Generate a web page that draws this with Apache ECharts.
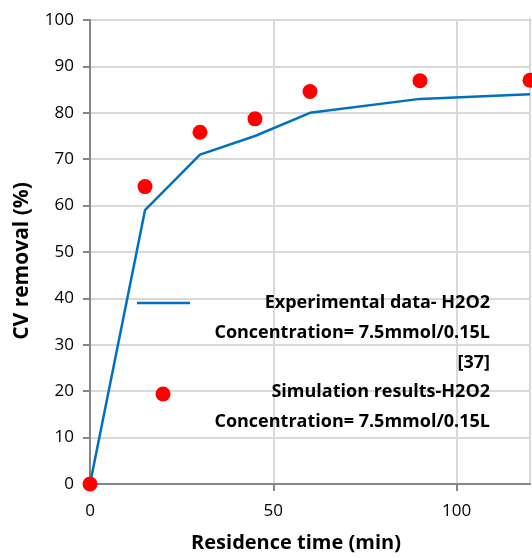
<!DOCTYPE html>
<html>
<head>
<meta charset="utf-8">
<script src="https://cdn.jsdelivr.net/npm/echarts@6/dist/echarts.min.js"></script>
<style>
  html, body { margin: 0; padding: 0; background: #fff; }
  #chart { width: 532px; height: 558px; }
</style>
</head>
<body>
<div id="chart"></div>
<script>
// residence time (min)
const times = [0, 15, 30, 45, 60, 90, 120];
// experimental data (line)
const experimental = [0, 59, 71, 75, 80, 83, 84];
// simulation results (dots)
const simulation = [0, 64.1, 75.8, 78.7, 84.6, 86.9, 87];

const lineName = 'Experimental data- H2O2\nConcentration= 7.5mmol/0.15L\n[37]';
const dotName = 'Simulation results-H2O2\nConcentration= 7.5mmol/0.15L';

const font = '"Open Sans", "Noto Sans", sans-serif';
const axisGray = '#868686';

const chart = echarts.init(document.getElementById('chart'));

const options = {
  animation: false,
  textStyle: { fontFamily: font, color: '#000' },
  grid: {
    left: 90, right: 2, top: 20, bottom: 74,
    show: true, borderColor: axisGray, borderWidth: 2, backgroundColor: 'transparent'
  },
  xAxis: {
    type: 'value', min: 0, max: 120, interval: 50,
    name: 'Residence time (min)', nameLocation: 'middle', nameGap: 49,
    nameTextStyle: { fontSize: 20, fontWeight: 'bold', color: '#000', padding: [0, 28, 0, 0] },
    axisLine: { show: true, lineStyle: { color: axisGray, width: 2 } },
    axisTick: { show: true, length: 7, lineStyle: { color: axisGray, width: 2 } },
    axisLabel: { fontSize: 17, color: '#000', margin: 19, showMaxLabel: false },
    splitLine: { show: true, lineStyle: { color: '#d9d9d9', width: 2 } }
  },
  yAxis: {
    type: 'value', min: 0, max: 100, interval: 10,
    name: 'CV removal (%)', nameLocation: 'middle', nameGap: 57,
    nameTextStyle: { fontSize: 21, fontWeight: 'bold', color: '#000', padding: [0, 18, 0, 0] },
    axisLine: { show: true, lineStyle: { color: axisGray, width: 2 } },
    axisTick: { show: true, length: 7, lineStyle: { color: axisGray, width: 2 } },
    axisLabel: { fontSize: 17, color: '#000', margin: 16 },
    splitLine: { show: true, lineStyle: { color: '#d9d9d9', width: 2 } }
  },
  series: [
    {
      name: lineName,
      type: 'line',
      data: times.map((t, i) => [t, experimental[i]]),
      showSymbol: false,
      lineStyle: { color: '#0070C0', width: 2.5 },
      clip: false,
      z: 2
    },
    {
      name: dotName,
      type: 'scatter',
      data: times.map((t, i) => [t, simulation[i]]),
      symbolSize: 15,
      itemStyle: { color: '#FF0000', opacity: 1 },
      clip: false,
      z: 3
    }
  ],
  // legend drawn in plot area with right-aligned text, as in the original
  graphic: [
    { type: 'line', z: 100, shape: { x1: 137, y1: 303, x2: 190, y2: 303 }, style: { stroke: '#0070C0', lineWidth: 2.5 } },
    { type: 'circle', z: 100, shape: { cx: 163, cy: 394, r: 7.5 }, style: { fill: '#FF0000' } },
    {
      type: 'text', z: 100, x: 490, y: 288,
      style: {
        text: lineName + '\n' + dotName,
        font: 'bold 18px ' + font, fill: '#000',
        align: 'right', verticalAlign: 'top', lineHeight: 29.8
      }
    }
  ]
};

chart.setOption(options);
</script>
</body>
</html>
